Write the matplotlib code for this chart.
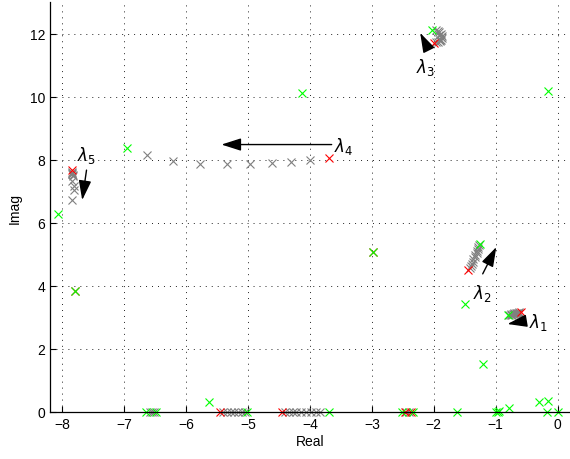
import matplotlib
matplotlib.use("Agg")
import matplotlib.pyplot as plt

plt.rcParams["font.family"] = ["Liberation Sans", "DejaVu Sans"]
plt.rcParams["mathtext.fontset"] = "dejavusans"
plt.rcParams["lines.scale_dashes"] = False

# eigenvalues at the first parameter value (red)
start_re = [-7.85, -3.70, -1.99, -1.44, -0.59, -2.99, -7.80,
            -5.45, -4.45, -2.47, -2.37]
start_im = [7.67, 8.05, 11.71, 4.49, 3.16, 5.08, 3.83,
            0.0, 0.0, 0.0, 0.0]

# eigenvalues for the intermediate parameter values (gray)
path_re = [
    # lambda_5
    -7.84, -7.84, -7.83, -7.83, -7.85, -7.84, -7.81, -7.81, -7.85,
    # lambda_4
    -4.00, -4.30, -4.62, -4.97, -5.34, -5.78, -6.22, -6.64,
    # lambda_3
    -1.97, -1.94, -1.91, -1.89, -1.87, -1.87, -1.88, -1.90, -1.93, -1.96,
    -1.92, -1.89, -1.90,
    # lambda_2
    -1.42, -1.40, -1.39, -1.37, -1.36, -1.34, -1.33, -1.31, -1.30,
    -1.29, -1.28, -1.27,
    # lambda_1
    -0.78, -0.76, -0.74, -0.72, -0.70, -0.68, -0.66, -0.64, -0.62,
    -0.75, -0.71, -0.67, -0.63,
    # real axis
    -5.40, -5.34, -5.28, -5.22, -5.16, -5.10, -5.05,
    -4.40, -4.34, -4.28, -4.22, -4.15, -4.07, -3.99, -3.91, -3.84,
    -6.58, -6.55, -6.52, -2.45, -2.40,
]
path_im = [
    7.62, 7.58, 7.53, 7.48, 7.56, 7.34, 7.18, 7.03, 6.71,
    8.00, 7.94, 7.90, 7.87, 7.87, 7.87, 7.95, 8.14,
    12.10, 12.08, 12.04, 11.98, 11.92, 11.86, 11.81, 11.77, 11.74, 11.72,
    11.96, 11.88, 11.80,
    4.56, 4.63, 4.70, 4.77, 4.84, 4.91, 4.98, 5.05, 5.12,
    5.18, 5.24, 5.29,
    3.07, 3.08, 3.09, 3.10, 3.11, 3.12, 3.13, 3.14, 3.15,
    3.11, 3.13, 3.15, 3.17,
    0.0, 0.0, 0.0, 0.0, 0.0, 0.0, 0.0,
    0.0, 0.0, 0.0, 0.0, 0.0, 0.0, 0.0, 0.0, 0.0,
    0.0, 0.0, 0.0, 0.0, 0.0,
]

# eigenvalues at the last parameter value (green)
end_re = [-8.07, -6.95, -2.03, -1.26, -0.80, -2.99, -7.80,
          -4.13, -0.16, -1.49, -1.21, -5.63, -0.30, -0.16, -0.78,
          -6.65, -6.48, -5.01, -3.70, -2.51, -2.33, -1.62,
          -1.00, -0.95, -0.97, -0.17, 0.00]
end_im = [6.29, 8.37, 12.11, 5.33, 3.06, 5.08, 3.83,
          10.10, 10.19, 3.43, 1.52, 0.33, 0.33, 0.36, 0.12,
          0.0, 0.0, 0.0, 0.0, 0.0, 0.0, 0.0,
          0.0, 0.03, 0.0, 0.0, 0.0]

# arrow annotations: label, label position, arrow tail, arrow tip
labels = [r"$\lambda_1$", r"$\lambda_2$", r"$\lambda_3$",
          r"$\lambda_4$", r"$\lambda_5$"]
label_pos = [(-0.31, 2.88), (-1.21, 3.80), (-2.13, 10.95),
             (-3.46, 8.45), (-7.61, 8.17)]
arrow_tail = [(-0.57, 2.87), (-1.21, 4.38), (-2.10, 11.55),
              (-3.65, 8.48), (-7.61, 7.67)]
arrow_tip = [(-0.81, 2.79), (-0.99, 5.23), (-2.22, 12.02),
             (-5.43, 8.48), (-7.68, 6.72)]

fig = plt.figure(figsize=(5.7, 4.6), dpi=100)
ax = fig.add_axes([50 / 570, 47 / 460, 520 / 570, 410 / 460])

marker_kw = dict(linestyle="none", marker="x", markersize=5.5,
                 markeredgewidth=0.8, clip_on=False)
ax.plot(path_re, path_im, color=(0.5, 0.5, 0.5), **marker_kw)
ax.plot(start_re, start_im, color=(1, 0, 0), **marker_kw)
ax.plot(end_re, end_im, color=(0, 1, 0), **marker_kw)

for text, pos, tail, tip in zip(labels, label_pos, arrow_tail, arrow_tip):
    ax.annotate(
        "", xy=tip, xytext=tail,
        arrowprops=dict(arrowstyle="-|>,head_length=1.0,head_width=0.32",
                        color="k", lw=1.0, mutation_scale=12,
                        shrinkA=0, shrinkB=0),
    )
    ax.text(pos[0], pos[1], text, fontsize=12, ha="center", va="center")

ax.set_xlim(-8.2, 0.2)
ax.set_ylim(0, 13)
ax.set_xticks(range(-8, 1))
ax.set_yticks(range(0, 13, 2))
ax.tick_params(direction="in", length=4, width=0.8, labelsize=10,
               top=False, right=False)
ax.grid(True, color="k", linewidth=0.6, dashes=(0.7, 3.6))
for side in ("top", "right"):
    ax.spines[side].set_visible(False)
for side in ("left", "bottom"):
    ax.spines[side].set_linewidth(0.9)

ax.set_xlabel("Real", fontsize=10, labelpad=2)
ax.set_ylabel("Imag", fontsize=10, labelpad=6)

fig.savefig("out.png", dpi=100)
